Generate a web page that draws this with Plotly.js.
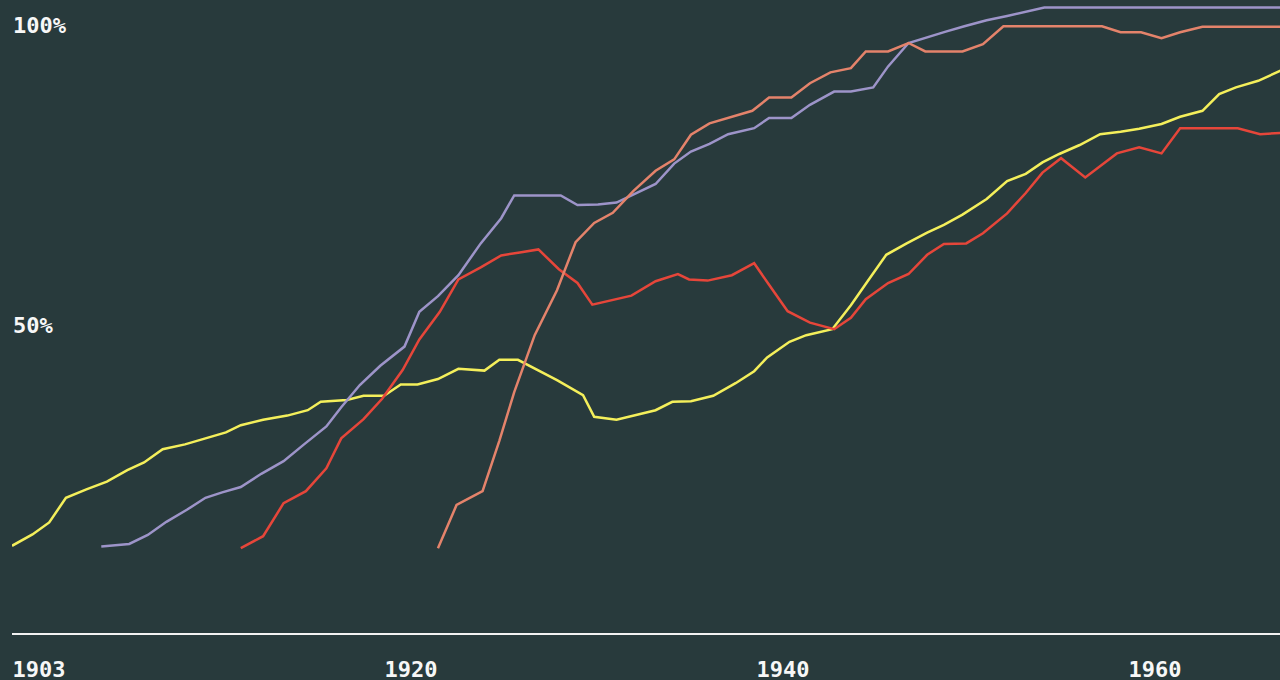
<!DOCTYPE html>
<html>
<head>
<meta charset="utf-8">
<script src="https://cdn.plot.ly/plotly-3.0.1.min.js"></script>
<style>
  html, body { margin: 0; padding: 0; background: #283a3c; }
  #chart { width: 1280px; height: 680px; }
</style>
</head>
<body>
<div id="chart"></div>
<script>
// ---- data (years, percent of households) ----
const yellowYears = [1900.0,1901.1,1902.0,1902.9,1904.0,1905.1,1906.2,1907.1,1908.1,1909.3,1910.4,1911.5,1912.3,1913.5,1914.8,1915.9,1916.6,1918.0,1918.9,1920.0,1920.9,1921.8,1922.9,1924.0,1925.4,1926.2,1927.2,1928.3,1929.3,1930.7,1931.3,1932.5,1933.5,1934.6,1935.5,1936.5,1937.7,1938.9,1939.9,1940.6,1941.8,1942.7,1944.1,1945.1,1946.0,1947.0,1948.1,1949.2,1950.1,1951.1,1952.4,1953.5,1954.5,1955.4,1956.3,1957.4,1958.5,1959.6,1960.6,1961.8,1962.8,1964.0,1964.9,1965.8,1967.0,1968.2];
const yellowValues = [13.2,15.1,17.1,21.2,22.6,23.9,25.8,27.1,29.3,30.1,31.1,32.1,33.3,34.2,34.9,35.8,37.2,37.5,38.2,38.2,40.1,40.1,41.0,42.7,42.4,44.2,44.2,42.4,40.8,38.3,34.7,34.2,35.0,35.8,37.2,37.3,38.2,40.3,42.3,44.6,47.2,48.3,49.3,53.3,57.3,61.7,63.6,65.4,66.7,68.4,71.0,74.0,75.2,77.1,78.5,80.0,81.8,82.2,82.7,83.5,84.7,85.7,88.5,89.6,90.7,92.4];

const purpleYears = [1904.8,1906.3,1907.3,1908.3,1909.4,1910.4,1911.3,1912.3,1913.4,1914.6,1915.7,1916.9,1917.7,1918.7,1919.8,1921.1,1921.9,1922.9,1924.0,1925.2,1926.3,1927.0,1928.4,1929.5,1930.4,1931.5,1932.5,1933.5,1934.6,1935.6,1936.5,1937.5,1938.5,1939.9,1940.7,1941.9,1942.9,1944.2,1945.1,1946.3,1947.1,1948.2,1949.2,1950.2,1951.2,1952.4,1953.5,1954.4,1955.5,1957.5,1959.5,1961.5,1963.5,1965.5,1968.2];
const purpleValues = [13.1,13.5,15.0,17.2,19.2,21.2,22.1,23.0,25.2,27.3,30.1,33.1,36.3,40.0,43.2,46.4,52.2,54.8,58.3,63.6,67.8,71.6,71.6,71.6,70.0,70.1,70.4,71.9,73.5,76.9,78.9,80.2,81.8,82.8,84.5,84.5,86.7,88.9,88.9,89.6,93.1,97.0,98.0,98.9,99.8,100.8,101.5,102.1,102.9,102.9,102.9,102.9,102.9,102.9,102.9];

const redYears = [1912.3,1913.5,1914.6,1915.8,1916.9,1917.7,1918.9,1919.9,1921.0,1921.9,1923.0,1924.0,1925.2,1926.3,1927.3,1928.3,1929.4,1930.4,1931.2,1932.3,1933.3,1934.6,1935.8,1936.4,1937.4,1938.7,1939.9,1940.7,1941.7,1942.9,1944.2,1945.1,1945.9,1947.1,1948.2,1949.2,1950.1,1951.3,1952.2,1953.5,1954.5,1955.4,1956.4,1957.7,1958.5,1959.4,1960.6,1961.8,1962.8,1963.9,1964.9,1965.9,1967.1,1968.2];
const redValues = [12.8,14.8,20.3,22.3,26.1,31.1,34.3,37.7,42.5,47.6,52.2,57.6,59.6,61.6,62.1,62.6,59.3,57.0,53.4,54.2,54.9,57.3,58.5,57.6,57.4,58.3,60.3,56.7,52.3,50.4,49.3,51.2,54.3,57.0,58.5,61.7,63.5,63.6,65.3,68.6,72.0,75.4,77.8,74.6,76.5,78.6,79.6,78.6,82.8,82.8,82.8,82.8,81.8,82.0];

const salmonYears = [1922.9,1923.9,1925.3,1926.2,1927.0,1928.1,1929.3,1930.3,1931.3,1932.3,1933.4,1934.6,1935.6,1936.5,1937.5,1938.6,1939.8,1940.7,1941.9,1942.9,1944.0,1945.1,1945.9,1947.1,1948.2,1949.1,1950.2,1951.1,1952.2,1953.3,1954.5,1955.5,1956.5,1957.6,1958.6,1959.6,1960.7,1961.8,1962.8,1964.0,1964.9,1966.0,1967.1,1968.2];
const salmonValues = [12.8,20.0,22.3,30.7,38.8,48.3,55.8,63.8,67.0,68.7,72.3,75.7,77.6,81.7,83.6,84.6,85.7,87.9,87.9,90.3,92.1,92.8,95.6,95.6,97.0,95.6,95.6,95.6,96.8,99.8,99.8,99.8,99.8,99.8,99.8,98.8,98.8,97.8,98.8,99.7,99.7,99.7,99.7,99.7];

// tick labels sit just right of each tick (left-aligned labels)
const xTickVals = [1901.45, 1921.45, 1941.45, 1961.45];
const xTickText = ['1903', '1920', '1940', '1960'];
const yTickVals = [50, 100];
const yTickText = ['50%', '100%'];

// ---- styling ----
const BG = '#283a3c';
const FONT = 'DejaVu Sans Mono, monospace';

function lineTrace(x, y, color) {
  return {
    type: 'scatter', mode: 'lines', x: x, y: y,
    line: { color: color, width: 2.5, shape: 'linear' },
    hoverinfo: 'skip', showlegend: false
  };
}

const traces = [
  lineTrace(yellowYears, yellowValues, '#f4ef5b'),
  lineTrace(purpleYears, purpleValues, '#9d94c9'),
  lineTrace(redYears, redValues, '#e6463a'),
  lineTrace(salmonYears, salmonValues, '#e4836b')
];

const layout = {
  width: 1280, height: 680,
  margin: { l: 12, r: 0, t: 0, b: 47, pad: 0 },
  paper_bgcolor: BG, plot_bgcolor: BG,
  showlegend: false,
  xaxis: {
    range: [1900, 1968.17],
    tickvals: xTickVals, ticktext: xTickText,
    showgrid: false, zeroline: false,
    showline: true, linecolor: '#f2f2f2', linewidth: 2,
    ticks: '', ticklabelstandoff: 16,
    tickfont: { family: FONT, size: 22, color: '#f7f7f7', weight: 'bold' },
    fixedrange: true
  },
  yaxis: {
    range: [-1.3333, 104.1667],
    tickvals: yTickVals, ticktext: yTickText,
    showgrid: false, zeroline: false, showline: false,
    side: 'right', anchor: 'free', position: 0,
    ticks: '', ticklabelposition: 'outside', ticklabelstandoff: 0,
    tickfont: { family: FONT, size: 22, color: '#f7f7f7', weight: 'bold' },
    fixedrange: true
  }
};

Plotly.newPlot('chart', traces, layout, { staticPlot: true, displayModeBar: false });
</script>
</body>
</html>
